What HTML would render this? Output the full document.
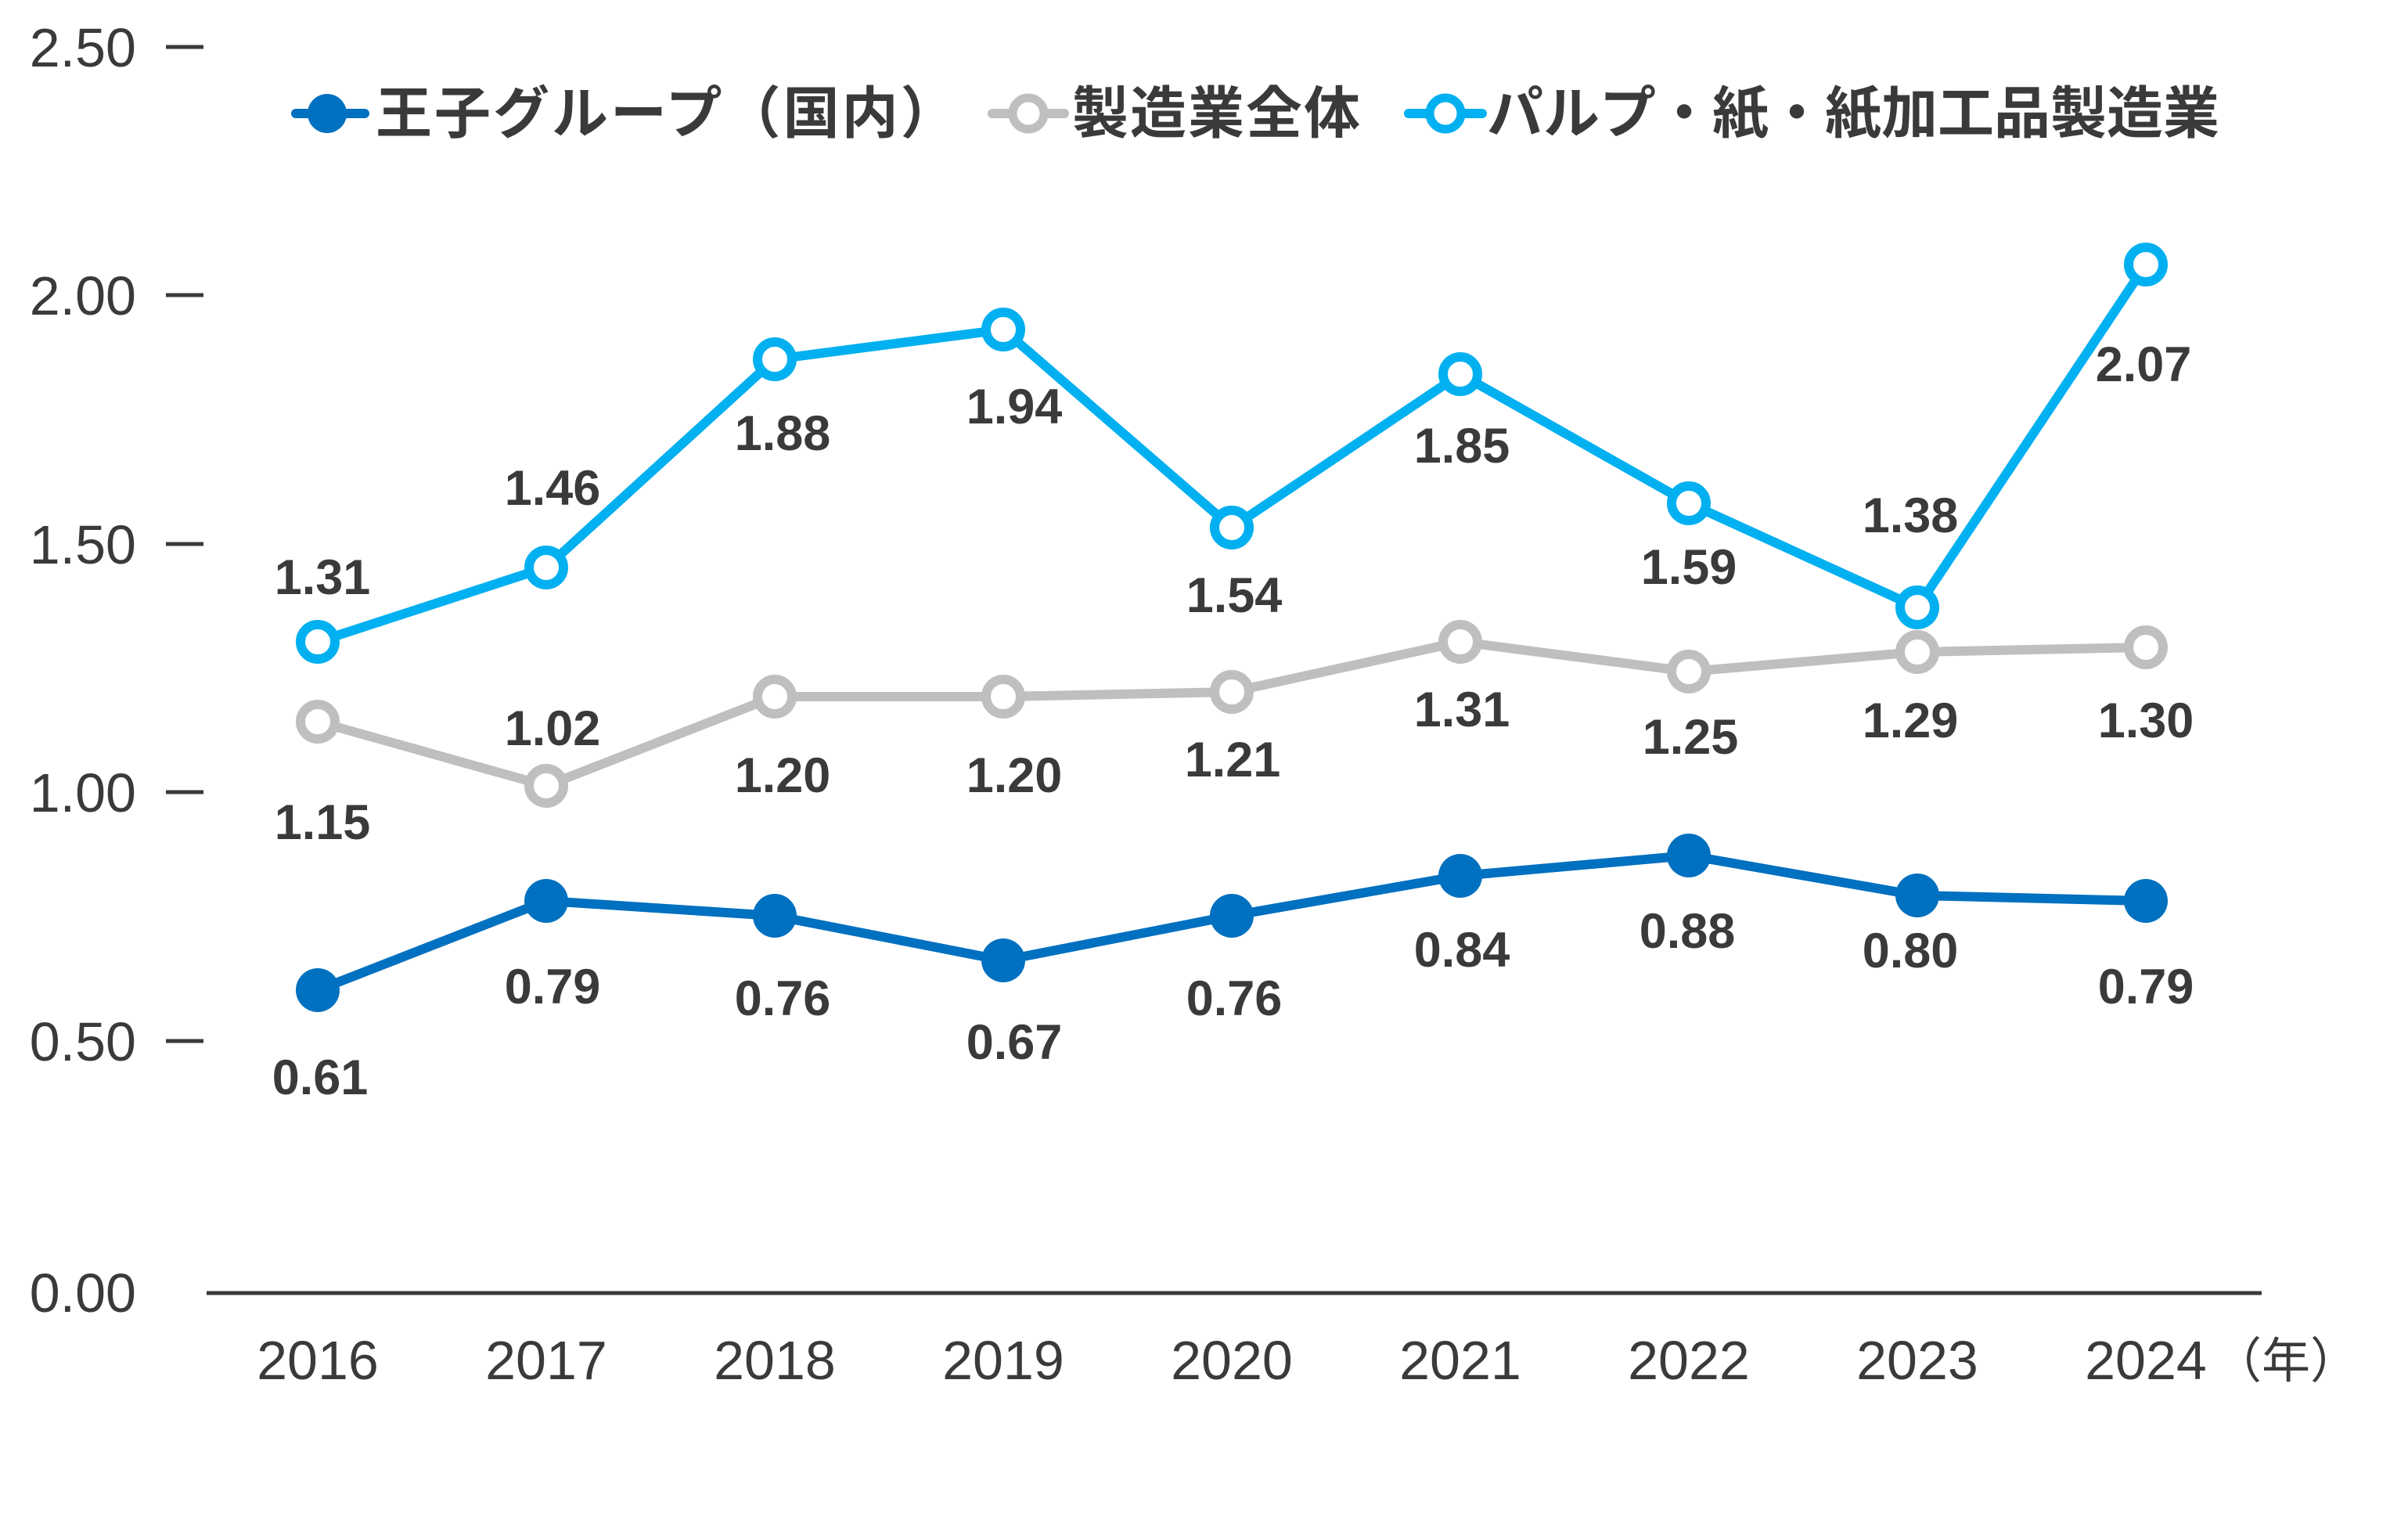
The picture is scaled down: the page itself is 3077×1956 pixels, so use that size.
<!DOCTYPE html>
<html><head><meta charset="utf-8"><style>
html,body{margin:0;padding:0;background:#fff;}
svg{display:block;}
</style></head><body>
<svg width="3077" height="1956" viewBox="0 0 3077 1956" xmlns="http://www.w3.org/2000/svg">
<g font-family="'Liberation Sans','Noto Sans CJK JP',sans-serif" fill="#3a3a3a">
<g font-size="70" text-anchor="end">
<text x="174" y="85">2.50</text>
<text x="174" y="402">2.00</text>
<text x="174" y="720">1.50</text>
<text x="174" y="1037">1.00</text>
<text x="174" y="1355">0.50</text>
<text x="174" y="1676">0.00</text>
</g>
<g stroke="#3a3a3a" stroke-width="5">
<line x1="212" y1="60" x2="260" y2="60"/>
<line x1="212" y1="377" x2="260" y2="377"/>
<line x1="212" y1="695" x2="260" y2="695"/>
<line x1="212" y1="1012" x2="260" y2="1012"/>
<line x1="212" y1="1330" x2="260" y2="1330"/>
<line x1="264" y1="1652" x2="2890" y2="1652" stroke-width="5"/>
</g>
<g font-size="70" text-anchor="middle">
<text x="406" y="1762">2016</text>
<text x="698" y="1762">2017</text>
<text x="990" y="1762">2018</text>
<text x="1282" y="1762">2019</text>
<text x="1574" y="1762">2020</text>
<text x="1866" y="1762">2021</text>
<text x="2158" y="1762">2022</text>
<text x="2450" y="1762">2023</text>
<text x="2742" y="1762">2024</text>
</g>
<text x="2828" y="1760" font-size="62">（年）</text>

<g fill="none" stroke-width="12" stroke-linejoin="round">
<polyline stroke="#00B0F0" points="406,820 698,725 990,459 1282,421 1574,674 1866,478 2158,643 2450,776 2742,338"/>
<polyline stroke="#BFBFBF" points="406,922 698,1004 990,890 1282,890 1574,884 1866,820 2158,858 2450,833 2742,827"/>
<polyline stroke="#0070C0" points="406,1265 698,1151 990,1170 1282,1227 1574,1170 1866,1119 2158,1093 2450,1144 2742,1151"/>
</g>
<g fill="#fff" stroke="#00B0F0" stroke-width="12">
<circle cx="406" cy="820" r="22"/><circle cx="698" cy="725" r="22"/><circle cx="990" cy="459" r="22"/><circle cx="1282" cy="421" r="22"/><circle cx="1574" cy="674" r="22"/><circle cx="1866" cy="478" r="22"/><circle cx="2158" cy="643" r="22"/><circle cx="2450" cy="776" r="22"/><circle cx="2742" cy="338" r="22"/>
</g>
<g fill="#fff" stroke="#BFBFBF" stroke-width="12">
<circle cx="406" cy="922" r="22"/><circle cx="698" cy="1004" r="22"/><circle cx="990" cy="890" r="22"/><circle cx="1282" cy="890" r="22"/><circle cx="1574" cy="884" r="22"/><circle cx="1866" cy="820" r="22"/><circle cx="2158" cy="858" r="22"/><circle cx="2450" cy="833" r="22"/><circle cx="2742" cy="827" r="22"/>
</g>
<g fill="#0070C0">
<circle cx="406" cy="1265" r="28"/><circle cx="698" cy="1151" r="28"/><circle cx="990" cy="1170" r="28"/><circle cx="1282" cy="1227" r="28"/><circle cx="1574" cy="1170" r="28"/><circle cx="1866" cy="1119" r="28"/><circle cx="2158" cy="1093" r="28"/><circle cx="2450" cy="1144" r="28"/><circle cx="2742" cy="1151" r="28"/>
</g>
<g font-size="63" font-weight="bold" text-anchor="middle">
<text x="412" y="759">1.31</text>
<text x="706" y="645">1.46</text>
<text x="1000" y="575">1.88</text>
<text x="1296" y="541">1.94</text>
<text x="1577" y="782">1.54</text>
<text x="1868" y="591">1.85</text>
<text x="2158" y="746">1.59</text>
<text x="2441" y="680">1.38</text>
<text x="2739" y="487">2.07</text>

<text x="412" y="1072">1.15</text>
<text x="706" y="952">1.02</text>
<text x="1000" y="1012">1.20</text>
<text x="1296" y="1012">1.20</text>
<text x="1575" y="992">1.21</text>
<text x="1868" y="928">1.31</text>
<text x="2160" y="963">1.25</text>
<text x="2441" y="942">1.29</text>
<text x="2742" y="942">1.30</text>

<text x="409" y="1398">0.61</text>
<text x="706" y="1282">0.79</text>
<text x="1000" y="1297">0.76</text>
<text x="1296" y="1353">0.67</text>
<text x="1577" y="1297">0.76</text>
<text x="1868" y="1235">0.84</text>
<text x="2156" y="1211">0.88</text>
<text x="2441" y="1236">0.80</text>
<text x="2742" y="1282">0.79</text>
</g>

<line x1="378" y1="145" x2="466" y2="145" stroke="#0070C0" stroke-width="12" stroke-linecap="round"/>
<circle cx="418" cy="145" r="25" fill="#0070C0"/>
<text x="480" y="170" font-size="72" font-weight="bold" letter-spacing="3">王子グループ（国内）</text>
<line x1="1268" y1="145" x2="1360" y2="145" stroke="#BFBFBF" stroke-width="12" stroke-linecap="round"/>
<circle cx="1314" cy="145" r="20" fill="#fff" stroke="#BFBFBF" stroke-width="11"/>
<text x="1370" y="170" font-size="72" font-weight="bold" letter-spacing="2">製造業全体</text>
<line x1="1800" y1="145" x2="1894" y2="145" stroke="#00B0F0" stroke-width="12" stroke-linecap="round"/>
<circle cx="1847" cy="145" r="20" fill="#fff" stroke="#00B0F0" stroke-width="11"/>
<text x="1900" y="170" font-size="72" font-weight="bold">パルプ・紙・紙加工品製造業</text>
</g>
</svg>
</body></html>
